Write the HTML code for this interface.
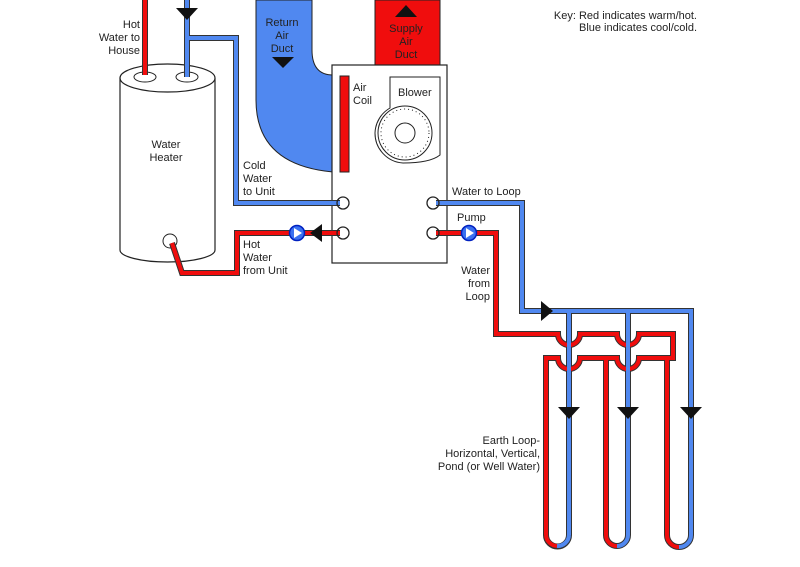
<!DOCTYPE html>
<html><head><meta charset="utf-8"><style>
html,body{margin:0;padding:0;background:#fff;}
svg{display:block;font-family:"Liberation Sans",Arial,sans-serif;font-size:11px;fill:#222;}
</style></head><body>
<svg width="800" height="567" viewBox="0 0 800 567" xmlns="http://www.w3.org/2000/svg">
<g fill="none" stroke-linejoin="miter">
<path d="M256 0 L312 0 L312 50 Q312 75 333 75 L333 172 Q256 165 256 100 Z" fill="#5088f0" stroke="#222" stroke-width="1"/>
<rect x="375" y="0" width="65" height="66" fill="#f00d0d" stroke="#222" stroke-width="1"/>
<path d="M120 78 L120 250 A47.5 12 0 0 0 215 250 L215 78" fill="#fff" stroke="#222" stroke-width="1.2"/>
<ellipse cx="167.5" cy="78" rx="47.5" ry="14" fill="#fff" stroke="#222" stroke-width="1.2"/>
<ellipse cx="145" cy="77" rx="11" ry="5" fill="#fff" stroke="#222"/>
<ellipse cx="187" cy="77" rx="11" ry="5" fill="#fff" stroke="#222"/>
<circle cx="170" cy="241" r="7" fill="#fff" stroke="#222"/>
<rect x="332" y="65" width="115" height="198" fill="#fff" stroke="#222" stroke-width="1.2"/>
<rect x="340" y="76" width="9" height="96" fill="#f00d0d" stroke="#222"/>
<path d="M390 77 L440 77 L440 155 Q430 163 403 163 A30 30 0 0 1 375 133 A30 30 0 0 1 390 108 Z" fill="#fff" stroke="#222"/>
<circle cx="405" cy="133" r="27" stroke="#222"/>
<circle cx="405" cy="133" r="24" stroke="#222" stroke-dasharray="1 3"/>
<circle cx="405" cy="133" r="10" fill="#fff" stroke="#222"/>
</g>
<g fill="none" stroke="#333" stroke-width="6" stroke-linejoin="miter">
<path d="M145 0 V75"/>
<path d="M187 0 V77 M187 38 H236 V203 H340"/>
<path d="M172 243 L182 273 H237 V233 H340"/>
<path d="M436 203 H522 V311 H691 V535 M569 311 V535 M628 311 V535"/>
<path d="M436 233 H496 V334 H558 A11 11 0 0 0 580 334 H617 A11 11 0 0 0 639 334 H673 V358 H639 A11 11 0 0 1 617 358 H580 A11 11 0 0 1 558 358 H546 V535 A11.5 11.5 0 0 0 569 535 M606 358 V535 A11 11 0 0 0 628 535 M667 358 V535 A12 12 0 0 0 691 535"/>
</g>
<g fill="none" stroke="#f00d0d" stroke-width="4" stroke-linejoin="miter">
<path d="M145 0 V75"/>
<path d="M172 243 L182 273 H237 V233 H340"/>
<path d="M436 233 H496 V334 H558 A11 11 0 0 0 580 334 H617 A11 11 0 0 0 639 334 H673 V358 H639 A11 11 0 0 1 617 358 H580 A11 11 0 0 1 558 358 H546 V535 M606 358 V535 M667 358 V535"/>
<path d="M546 535 A11.5 11.5 0 0 0 557 546 M606 535 A11 11 0 0 0 617 546 M667 535 A12 12 0 0 0 679 547"/>
</g>
<g fill="none" stroke="#5088f0" stroke-width="4" stroke-linejoin="miter">
<path d="M187 0 V77 M187 38 H236 V203 H340"/>
<path d="M436 203 H522 V311 H691 V535 M569 311 V535 M628 311 V535"/>
<path d="M557 546 A11.5 11.5 0 0 0 569 535 M617 546 A11 11 0 0 0 628 535 M679 547 A12 12 0 0 0 691 535"/>
</g>
<g fill="none" stroke="#222" stroke-width="1.3">
<circle cx="343" cy="203" r="6"/><circle cx="343" cy="233" r="6"/>
<circle cx="433" cy="203" r="6"/><circle cx="433" cy="233" r="6"/>
</g>
<g stroke="#0020c0" stroke-width="1.5">
<circle cx="297" cy="233" r="7.5" fill="#3a70f0"/>
<circle cx="469" cy="233" r="7.5" fill="#3a70f0"/>
</g>
<g fill="#fff"><path d="M294 228 L302 233 L294 238Z"/><path d="M466 228 L474 233 L466 238Z"/></g>
<g fill="#111">
<path d="M176 8 H198 L187 20Z"/>
<path d="M272 57 H294 L283 68Z"/>
<path d="M395 17 H417 L406 5Z"/>
<path d="M322 224 V242 L310 233Z"/>
<path d="M541 301 V321 L553 311Z"/>
<path d="M558 407 H580 L569 419Z"/>
<path d="M617 407 H639 L628 419Z"/>
<path d="M680 407 H702 L691 419Z"/>
</g>
<g text-anchor="end">
<text x="140" y="28">Hot</text><text x="140" y="41">Water to</text><text x="140" y="54">House</text>
<text x="697" y="19">Key: Red indicates warm/hot.</text><text x="697" y="31">Blue indicates cool/cold.</text>
<text x="490" y="274">Water</text><text x="490" y="287">from</text><text x="490" y="300">Loop</text>
<text x="540" y="444">Earth Loop-</text><text x="540" y="457">Horizontal, Vertical,</text><text x="540" y="470">Pond (or Well Water)</text>
</g>
<g text-anchor="middle">
<text x="282" y="26">Return</text><text x="282" y="39">Air</text><text x="282" y="52">Duct</text>
<text x="406" y="32">Supply</text><text x="406" y="45">Air</text><text x="406" y="58">Duct</text>
<text x="166" y="148">Water</text><text x="166" y="161">Heater</text>
</g>
<text x="243" y="169">Cold</text><text x="243" y="182">Water</text><text x="243" y="195">to Unit</text>
<text x="243" y="248">Hot</text><text x="243" y="261">Water</text><text x="243" y="274">from Unit</text>
<text x="353" y="91">Air</text><text x="353" y="104">Coil</text>
<text x="398" y="96">Blower</text>
<text x="452" y="195">Water to Loop</text>
<text x="457" y="221">Pump</text>
</svg>
</body></html>
